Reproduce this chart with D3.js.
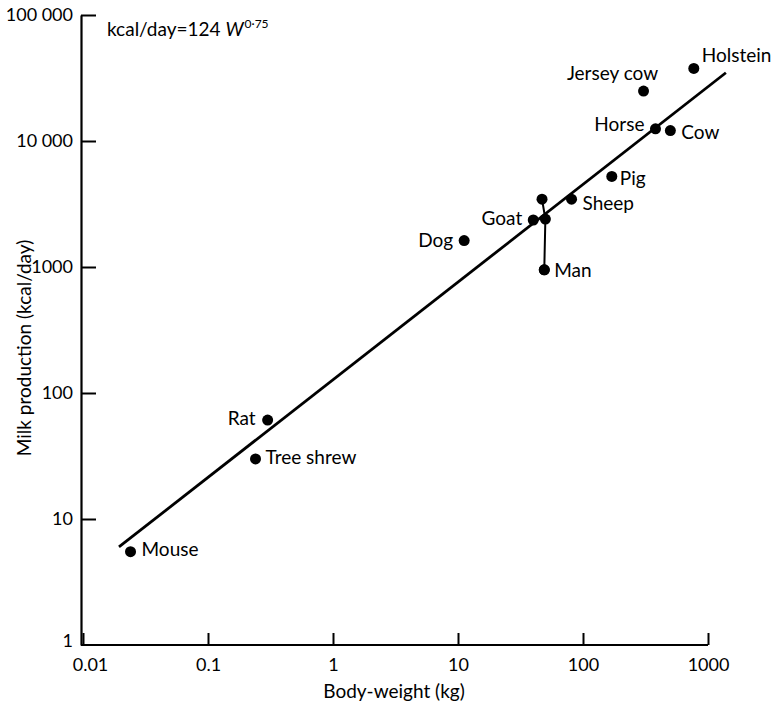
<!DOCTYPE html>
<html>
<head>
<meta charset="utf-8">
<script src="https://cdn.jsdelivr.net/npm/d3@7"></script>
<style>
  html, body { margin: 0; padding: 0; background: #fff; }
  svg { display: block; font-family: Lato, "Open Sans", sans-serif; }
</style>
</head>
<body>
<svg id="chart" width="776" height="708"></svg>
<script>
// ---- data ----
const animals = ["Mouse", "Rat", "Tree shrew", "Dog", "Goat", "Man", "Sheep", "Pig", "Horse", "Cow", "Jersey cow", "Holstein"];
const bodyWeightKg = [0.024, 0.30, 0.24, 11.2, 40, 49, 81, 170, 380, 500, 305, 770];
const milkKcalPerDay = [5.5, 61, 30, 1620, 2360, 950, 3450, 5230, 12500, 12100, 24900, 37700];
// Man: range of values joined by a vertical line
const manRangeWeightKg = [47, 50, 49];
const manRangeKcal = [3450, 2400, 950];
// fitted line kcal/day = 124 W^0.75, end points as drawn
const fitWeightKg = [0.0194, 1390];
const fitKcal = [6.0, 34800];
const xTickValues = [0.01, 0.1, 1, 10, 100, 1000];
const xTickLabels = ["0.01", "0.1", "1", "10", "100", "1000"];
const yTickValues = [1, 10, 100, 1000, 10000, 100000];
const yTickLabels = ["1", "10", "100", "1000", "10 000", "100 000"];

// ---- label placement (style) ----
const labelPlace = {
  "Mouse": [11, -2, "start"],
  "Rat": [-12, -2, "end"],
  "Tree shrew": [10, -2, "start"],
  "Dog": [-11, 0, "end"],
  "Goat": [-11, -2, "end"],
  "Man": [10, 1, "start"],
  "Sheep": [11, 4, "start"],
  "Pig": [8, 2, "start"],
  "Horse": [-11, -4, "end"],
  "Cow": [11, 2, "start"],
  "Jersey cow": [-31, -18, "middle"],
  "Holstein": [8, -13, "start"]
};

const svg = d3.select("#chart");
const x = d3.scaleLog().domain([0.01, 1000]).range([83, 708]);
const y = d3.scaleLog().domain([1, 100000]).range([645, 15]);

// axes
const xAxis = d3.axisBottom(x).tickValues(xTickValues)
  .tickFormat((d, i) => xTickLabels[i]).tickSizeInner(-12).tickSizeOuter(0).tickPadding(13);
const yAxis = d3.axisLeft(y).tickValues(yTickValues)
  .tickFormat((d, i) => yTickLabels[i]).tickSizeInner(-15).tickSizeOuter(0).tickPadding(8);

const gx = svg.append("g").attr("transform", "translate(0,645)").call(xAxis);
const gy = svg.append("g").attr("transform", "translate(81,0)").call(yAxis);
[gx, gy].forEach(g => {
  g.select(".domain").attr("stroke", "#000").attr("stroke-width", 2.2);
  g.selectAll(".tick line").attr("stroke", "#000").attr("stroke-width", 2);
  g.selectAll(".tick text").attr("fill", "#000").attr("font-size", 18)
    .attr("font-family", "Lato, sans-serif");
});
gx.select(".domain").attr("d", `M81,0H${x(1000)}`);
gx.selectAll(".tick").filter(d => d === 0.01).select("text").attr("dx", 7);
gy.selectAll(".tick").filter(d => d === 1).select("line").remove();
gy.selectAll(".tick").filter(d => d === 1).select("text").attr("dy", "0.1em");

// axis titles
svg.append("text").attr("x", 394).attr("y", 698).attr("text-anchor", "middle")
  .attr("font-size", 19).text("Body-weight (kg)");
svg.append("text").attr("transform", "translate(31,348) rotate(-90)").attr("text-anchor", "middle")
  .attr("font-size", 19).text("Milk production (kcal/day)");

// formula
const f = svg.append("text").attr("x", 107).attr("y", 36).attr("font-size", 19);
f.append("tspan").text("kcal/day=124 ");
f.append("tspan").attr("font-style", "italic").text("W");
f.append("tspan").attr("font-size", 12).attr("dy", -8).attr("dx", 1).text("0·75");

// fitted line
const fit = fitWeightKg.map((w, i) => [w, fitKcal[i]]);
svg.append("path").datum(fit)
  .attr("d", d3.line().x(d => x(d[0])).y(d => y(d[1])))
  .attr("stroke", "#000").attr("stroke-width", 2.8).attr("fill", "none");

// man range
const man = manRangeWeightKg.map((w, i) => [w, manRangeKcal[i]]);
svg.append("path").datum(man)
  .attr("d", d3.line().x(d => x(d[0])).y(d => y(d[1])))
  .attr("stroke", "#000").attr("stroke-width", 2).attr("fill", "none");
svg.append("g").selectAll("circle").data(man).join("circle")
  .attr("cx", d => x(d[0])).attr("cy", d => y(d[1])).attr("r", 5.5).attr("fill", "#000");

// points
const pts = animals.map((n, i) => ({ name: n, w: bodyWeightKg[i], k: milkKcalPerDay[i] }));
svg.append("g").selectAll("circle").data(pts).join("circle")
  .attr("cx", d => x(d.w)).attr("cy", d => y(d.k)).attr("r", 5.5).attr("fill", "#000");
svg.append("g").selectAll("text").data(pts).join("text")
  .attr("x", d => x(d.w) + labelPlace[d.name][0])
  .attr("y", d => y(d.k) + labelPlace[d.name][1])
  .attr("dy", "0.35em")
  .attr("text-anchor", d => labelPlace[d.name][2])
  .attr("font-size", 19).attr("fill", "#000")
  .text(d => d.name);
</script>
</body>
</html>
